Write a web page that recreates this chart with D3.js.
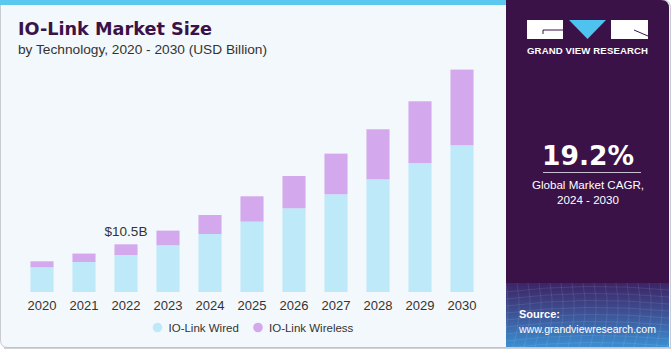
<!DOCTYPE html>
<html>
<head>
<meta charset="utf-8">
<script src="https://cdn.jsdelivr.net/npm/d3@7/dist/d3.min.js"></script>
<style>
  html, body { margin: 0; padding: 0; background: #ffffff; }
  svg { display: block; }
</style>
</head>
<body>
<svg id="chart" width="671" height="350"></svg>
<script>
const years = ["2020","2021","2022","2023","2024","2025","2026","2027","2028","2029","2030"];
const wired = [5.44, 6.61, 8.15, 10.29, 12.78, 15.5, 18.44, 21.52, 24.82, 28.41, 32.31];
const wireless = [1.32, 1.85, 2.35, 3.23, 4.18, 5.58, 7.11, 8.96, 11.02, 13.59, 16.68];
const seriesNames = ["IO-Link Wired", "IO-Link Wireless"];
const seriesColors = ["#bde9f9", "#d4a8ec"];
const annotationYear = "2022";
const annotationText = "$10.5B";
const cagrValue = "19.2%";
const cagrLabel = ["Global Market CAGR,", "2024 - 2030"];

const svg = d3.select("#chart");
const font = "'Liberation Sans', Arial, sans-serif";
const heavy = "'DejaVu Sans', 'Liberation Sans', sans-serif";

// background card
svg.append("path")
  .attr("d", "M0.5,0 H663 Q670.5,0 670.5,8 V347.5 H8 Q0.5,347.5 0.5,340 Z")
  .attr("fill", "#f3f8fc").attr("stroke", "#c9ccd0").attr("stroke-width", 1);
svg.append("line").attr("x1", 4).attr("x2", 671).attr("y1", 348).attr("y2", 348)
  .attr("stroke", "#bfc2c6").attr("stroke-width", 1.5);

// top stripe
svg.append("rect").attr("x", 0).attr("y", 0).attr("width", 506).attr("height", 5).attr("fill", "#5ac8ef");

// right panel
const defs = svg.append("defs");
const grad = defs.append("linearGradient").attr("id", "srcGrad").attr("x1", 0).attr("y1", 0).attr("x2", 0).attr("y2", 1);
grad.append("stop").attr("offset", "0%").attr("stop-color", "#3b2466");
grad.append("stop").attr("offset", "45%").attr("stop-color", "#3d4f92");
grad.append("stop").attr("offset", "100%").attr("stop-color", "#3a8fd2");
svg.append("path")
  .attr("d", "M506,0 H661 Q669,0 669,8 V283 H506 Z")
  .attr("fill", "#3a1248");
svg.append("rect").attr("x", 506).attr("y", 283).attr("width", 163).attr("height", 64).attr("fill", "url(#srcGrad)");
const gridG = svg.append("g").attr("stroke", "#ffffff").attr("stroke-opacity", 0.13).attr("stroke-width", 0.7).attr("fill", "none");
for (let i = 0; i < 9; i++) {
  const yy = 288 + i * 7;
  gridG.append("path").attr("d", `M506,${yy + 4} Q585,${yy - 6} 669,${yy + 2}`);
}
for (let i = 0; i < 16; i++) {
  const xx = 506 + i * 11;
  gridG.append("path").attr("d", `M${xx},283 Q${xx + 6},315 ${xx - 4},347`);
}

// logo
const logo = svg.append("g");
logo.append("rect").attr("x", 527).attr("y", 20).attr("width", 36).attr("height", 19).attr("fill", "#ffffff");
logo.append("path").attr("d", "M569,20 H606 L587.5,39 Z").attr("fill", "#4fc3f0");
logo.append("rect").attr("x", 611).attr("y", 20).attr("width", 37).attr("height", 19).attr("fill", "#ffffff");
logo.append("path").attr("d", "M543,34 V30 H563").attr("stroke", "#3a1248").attr("stroke-width", 1).attr("fill", "none");
logo.append("path").attr("d", "M634,30 L648,36").attr("stroke", "#3a1248").attr("stroke-width", 1).attr("fill", "none");
logo.append("text").attr("x", 587.5).attr("y", 54).attr("text-anchor", "middle")
  .attr("font-family", font).attr("font-weight", "bold").attr("font-size", 9.6)
  .attr("textLength", 121).attr("lengthAdjust", "spacing")
  .attr("fill", "#ffffff").text("GRAND VIEW RESEARCH");

// CAGR
svg.append("text").attr("x", 588).attr("y", 165).attr("text-anchor", "middle")
  .attr("font-family", heavy).attr("font-weight", "bold").attr("font-size", 26.5)
  .attr("fill", "#ffffff").text(cagrValue);
svg.append("line").attr("x1", 543).attr("x2", 641).attr("y1", 172.5).attr("y2", 172.5)
  .attr("stroke", "#c9c0d2").attr("stroke-width", 1.2);
cagrLabel.forEach((t, i) => {
  svg.append("text").attr("x", 588).attr("y", 189 + i * 15).attr("text-anchor", "middle")
    .attr("font-family", font).attr("font-size", 11.6).attr("fill", "#ffffff").text(t);
});

// source
svg.append("text").attr("x", 519).attr("y", 318).attr("font-family", font).attr("font-weight", "bold")
  .attr("font-size", 11).attr("fill", "#ffffff").text("Source:");
svg.append("text").attr("x", 519).attr("y", 333).attr("font-family", font)
  .attr("font-size", 10.8).attr("textLength", 137).attr("lengthAdjust", "spacingAndGlyphs")
  .attr("fill", "#ffffff").text("www.grandviewresearch.com");

// titles
svg.append("text").attr("x", 18).attr("y", 35).attr("font-family", heavy).attr("font-weight", "bold")
  .attr("font-size", 17.8).attr("textLength", 194).attr("lengthAdjust", "spacingAndGlyphs")
  .attr("fill", "#3a1248").text("IO-Link Market Size");
svg.append("text").attr("x", 18).attr("y", 54).attr("font-family", font)
  .attr("font-size", 13.2).attr("textLength", 249).attr("lengthAdjust", "spacingAndGlyphs")
  .attr("fill", "#333333").text("by Technology, 2020 - 2030 (USD Billion)");

// scales
const x = d3.scaleBand().domain(years).range([21, 483]).paddingInner(0.45).paddingOuter(0.225);
const y = d3.scaleLinear().domain([0, 50]).range([292, 65]);

const data = years.map((yr, i) => ({ year: yr, wired: wired[i], wireless: wireless[i] }));
const layers = d3.stack().keys(["wired", "wireless"])(data);

svg.append("g").selectAll("g").data(layers).join("g")
  .attr("fill", (d, i) => seriesColors[i])
  .selectAll("rect").data(d => d).join("rect")
  .attr("x", d => x(d.data.year))
  .attr("width", x.bandwidth())
  .attr("y", d => y(d[1]))
  .attr("height", d => y(d[0]) - y(d[1]));

// x axis
const xAxis = svg.append("g").attr("transform", "translate(0,292)")
  .call(d3.axisBottom(x).tickSize(0).tickPadding(6));
xAxis.select(".domain").remove();
xAxis.selectAll("text").attr("font-family", font).attr("font-size", 13).attr("fill", "#333333").attr("dy", "0.95em");

// annotation
const ai = years.indexOf(annotationYear);
svg.append("text").attr("x", x(annotationYear) + x.bandwidth() / 2).attr("y", y(wired[ai] + wireless[ai]) - 8)
  .attr("text-anchor", "middle").attr("font-family", font).attr("font-size", 13.5)
  .attr("fill", "#333333").text(annotationText);

// legend
const legendX = [157.5, 258];
seriesNames.forEach((n, i) => {
  svg.append("circle").attr("cx", legendX[i]).attr("cy", 327.5).attr("r", 4.8).attr("fill", seriesColors[i]);
  svg.append("text").attr("x", legendX[i] + 11).attr("y", 331.5).attr("font-family", font)
    .attr("font-size", 11.5).attr("fill", "#333333").text(n);
});
</script>
</body>
</html>
